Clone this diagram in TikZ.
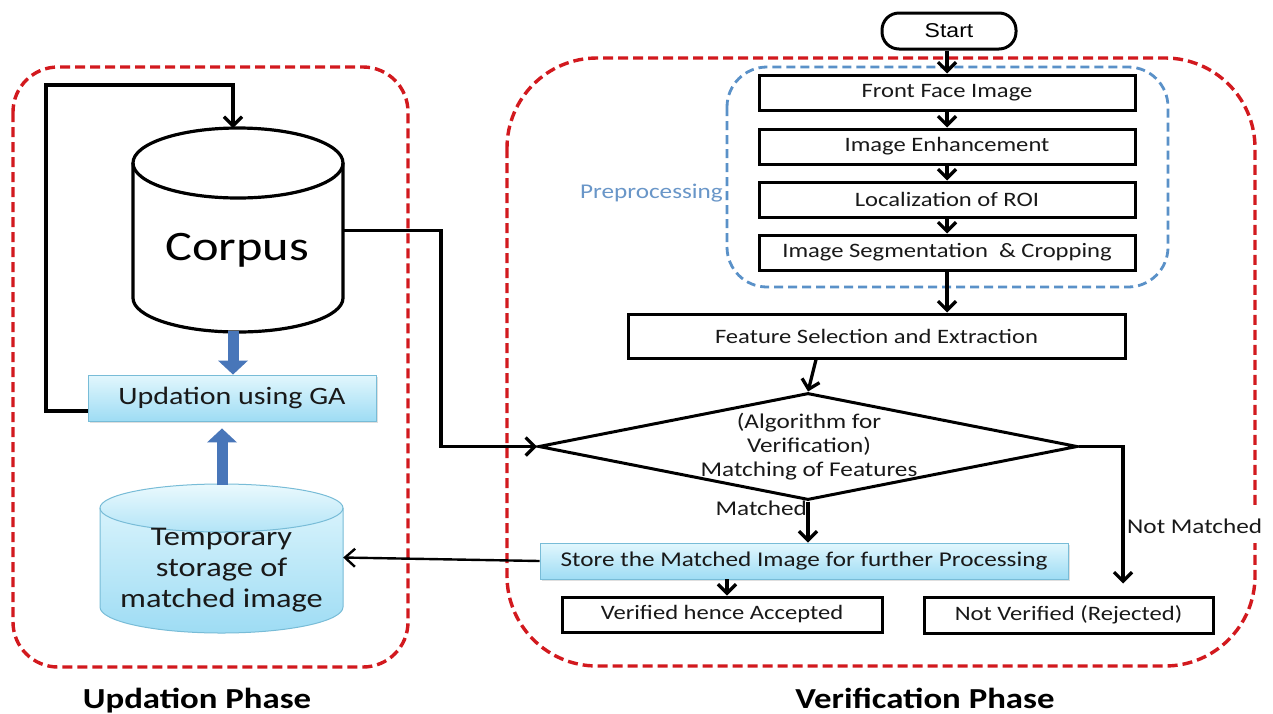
\documentclass[tikz,border=0pt]{standalone}
\usepackage{fontspec}
\setmainfont{Carlito}[FakeStretch=1.2]
\newfontfamily\startfont{Liberation Sans}[FakeStretch=1.15]
\usetikzlibrary{arrows.meta,shapes.geometric,shadows,calc}
\definecolor{phasered}{RGB}{210,25,30}
\definecolor{prepblue}{RGB}{90,145,200}
\definecolor{preptext}{RGB}{105,150,200}
\definecolor{fatblue}{RGB}{72,118,185}
\definecolor{cyantop}{RGB}{226,247,253}
\definecolor{cyanbot}{RGB}{158,220,244}
\definecolor{cyanedge}{RGB}{120,188,215}
\definecolor{textgray}{RGB}{25,25,25}
\begin{document}
\begin{tikzpicture}[x=1pt,y=1pt,
  redframe/.style={draw=phasered, line width=3.4pt, dash pattern=on 10pt off 5pt},
  blueframe/.style={draw=prepblue, line width=2.8pt, dash pattern=on 9pt off 5pt},
  box/.style={draw=black, line width=3pt, minimum width=376pt, minimum height=35pt, inner sep=0pt, text=textgray, font=\fontsize{20.5}{24}\selectfont},
  cyanbox/.style={draw=cyanedge, line width=0.9pt, top color=cyantop, bottom color=cyanbot, inner sep=0pt, text=textgray, drop shadow={opacity=0.25, shadow xshift=1.5pt, shadow yshift=-1.5pt}},
  startnode/.style={draw=black, line width=3pt, rounded corners=17pt, minimum width=134pt, minimum height=36pt, inner sep=0pt, font=\startfont\fontsize{20}{24}\selectfont},
  cyl/.style={draw=black, line width=3.2pt},
  arr/.style={draw=black, line width=3.3pt, -{Straight Barb[length=9pt,width=18pt]}},
  thinarr/.style={draw=black, line width=2.4pt, -{Straight Barb[length=10pt,width=18pt]}},
  loopline/.style={draw=black, line width=3.3pt, -{Straight Barb[length=9pt,width=18pt]}},
  fat/.style={draw=fatblue, line width=11pt, -{Triangle[length=14pt,width=30pt,line width=0pt]}},
  lbl/.style={text=textgray, font=\fontsize{21}{24}\selectfont, inner sep=0pt},
  phase/.style={text=black, font=\bfseries\fontsize{29}{34}\selectfont, inner sep=0pt}
]
\useasboundingbox[fill=white] (0,0) rectangle (1273,-713);

% phase frames
\draw[redframe, rounded corners=45pt] (13,-67) rectangle (408,-667);
\draw[redframe, rounded corners=90pt] (507,-58) rectangle (1255,-666);
\draw[blueframe, rounded corners=40pt] (727,-67) rectangle (1168,-287);

% corpus cylinder
\fill[white] (133,-163) -- (133,-298) arc (180:360:105 and 34) -- (343,-163) -- cycle;
\draw[cyl] (133,-163) -- (133,-298) arc (180:360:105 and 34) -- (343,-163);
\draw[cyl] (238,-163) ellipse (105 and 35);
\node[inner sep=0pt, minimum width=210pt, minimum height=135pt] (corpus) at (238,-230.5) {};
\node[anchor=base, inner sep=0pt, text=black, font=\fontsize{42}{48}\selectfont] (ctext) at (237,-260) {Corpus};

% temporary storage cylinder
\shade[top color=cyantop, bottom color=cyanbot] (100,-508) -- (100,-607) arc (180:360:121.5 and 26) -- (343,-508) arc (0:180:121.5 and 24) -- cycle;
\shade[top color=cyantop!70!white, bottom color=cyanbot!70!cyantop] (221.5,-508) ellipse (121.5 and 24);
\draw[draw=cyanedge, line width=1pt] (100,-508) -- (100,-607) arc (180:360:121.5 and 26) -- (343,-508);
\draw[draw=cyanedge, line width=1pt] (221.5,-508) ellipse (121.5 and 24);
\node[inner sep=0pt, minimum width=243pt, minimum height=99pt] (temp) at (221.5,-557.5) {};
\node[align=center, inner sep=0pt, text=textgray, font=\fontsize{27}{31}\selectfont] (ttext) at (221.5,-570) {Temporary\\storage of\\matched image};

% left phase boxes
\node[cyanbox, minimum width=288pt, minimum height=46pt, font=\fontsize{25}{30}\selectfont] (upd) at (232,-398) {Updation using GA};

% right phase nodes
\node[startnode] (start) at (949,-31) {Start};
\node[box] (ff) at (947,-92.5) {Front Face Image};
\node[box] (enh) at (947,-146.5) {Image Enhancement};
\node[box] (loc) at (947,-199.5) {Localization of ROI};
\node[box] (seg) at (947,-252.5) {Image Segmentation~ \& Cropping};
\node[box, minimum width=497pt, minimum height=44pt] (feat) at (876.5,-336) {Feature Selection and Extraction};
\node[diamond, draw=black, line width=3pt, minimum width=539pt, minimum height=107pt, inner sep=0pt] (diam) at (808,-446.5) {};
\node[align=center, lbl] (dtext) at (809,-447) {(Algorithm for\\Verification)\\Matching of Features};
\node[cyanbox, minimum width=528pt, minimum height=36pt, font=\fontsize{21}{24}\selectfont] (store) at (804,-561) {Store the Matched Image for further Processing};
\node[box, minimum width=320pt, minimum height=35pt] (acc) at (722,-614.5) {Verified hence Accepted};
\node[box, minimum width=289pt, minimum height=36pt] (rej) at (1068.5,-615) {Not Verified (Rejected)};

% helper coordinates
\coordinate (corpusTop) at (233,-128);
\coordinate (corpusBot) at (233,-331);
\coordinate (tempTop) at (222,-485);
\coordinate (loopTop) at (46,-85);
\coordinate (busX) at (441,0);
\coordinate (nmX) at (1123,0);

% connectors
\draw[arr] (ff.north |- start.south) -- (ff.north);
\draw[arr] (ff.south) -- (enh.north);
\draw[arr] (enh.south) -- (loc.north);
\draw[arr] (loc.south) -- (seg.north);
\draw[arr] (seg.south) -- (seg.south |- feat.north);
\draw[arr] ([xshift=8pt]feat.south -| diam.north) -- (diam.north);
\draw[arr] (diam.south) -- (diam.south |- store.north);
\draw[arr, shorten >=12pt] (diam.east) -| (nmX |- rej.north);
\draw[arr] ([xshift=5pt]acc.north |- store.south) -- ([xshift=5pt]acc.north);
\draw[thinarr] (store.west) -- (temp.east);
\draw[arr] (corpus.east) -| (busX |- diam.west) -- (diam.west);
\draw[loopline] ([yshift=-13pt]upd.west) -| (loopTop) -| (corpusTop);
\draw[fat] (corpusBot) -- (corpusBot |- upd.north);
\draw[fat, shorten >=7pt] (tempTop) -- (tempTop |- upd.south);

% labels
\node[lbl, anchor=base east] (matchedlbl) at (807,-515) {Matched};
\node[lbl, anchor=base west, fill=white, inner xsep=0pt, inner ysep=10pt] (nmlbl) at (1127,-533) {Not Matched};
\node[lbl, anchor=base east, text=preptext] (prep) at (723,-198) {Preprocessing};
\node[phase, anchor=base] (uphase) at (197,-708) {Updation Phase};
\node[phase, anchor=base] (vphase) at (925,-708) {Verification Phase};
\end{tikzpicture}
\end{document}
